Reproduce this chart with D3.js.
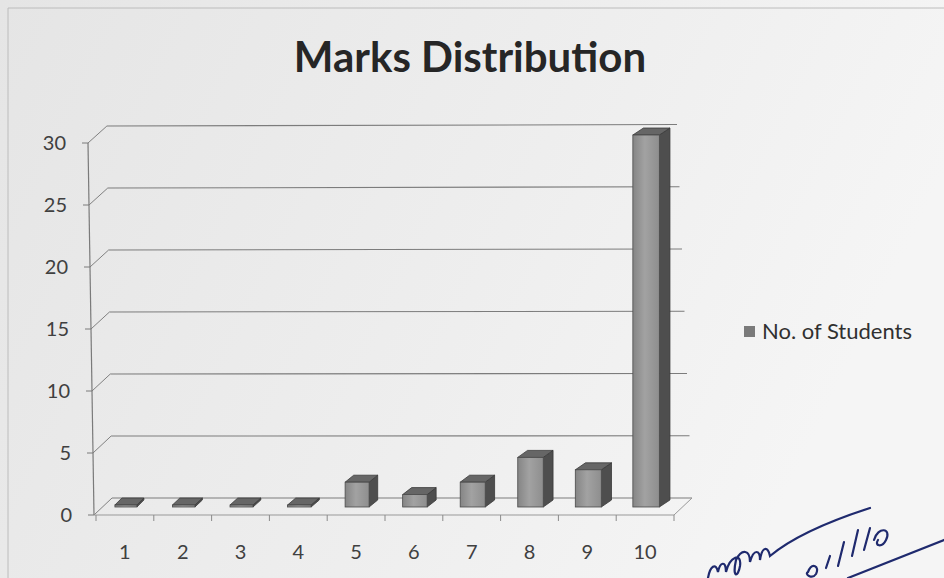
<!DOCTYPE html>
<html>
<head>
<meta charset="utf-8">
<script src="https://cdn.jsdelivr.net/npm/d3@7"></script>
<style>
  html, body { margin: 0; padding: 0; background: #ececec; }
  svg { display: block; }
  text { font-family: Lato, "Open Sans", sans-serif; }
</style>
</head>
<body>
<svg id="chart" width="944" height="578"></svg>
<script>
// data
const categories = ["1", "2", "3", "4", "5", "6", "7", "8", "9", "10"];
const students = [0, 0, 0, 0, 2, 1, 2, 4, 3, 30];
const yTicks = [0, 5, 10, 15, 20, 25, 30];
const seriesName = "No. of Students";
const title = "Marks Distribution";

const W = 944, H = 578;
const svg = d3.select("#chart");

// paper background, a bit brighter on the right like the photo
const defs = svg.append("defs");
const bg = defs.append("linearGradient").attr("id", "bg").attr("x1", 0).attr("x2", 1).attr("y1", 0).attr("y2", 0.3);
bg.append("stop").attr("offset", 0).attr("stop-color", "#e5e5e5");
bg.append("stop").attr("offset", 0.6).attr("stop-color", "#eeeeee");
bg.append("stop").attr("offset", 1).attr("stop-color", "#f5f5f5");
svg.append("rect").attr("width", W).attr("height", H).attr("fill", "url(#bg)");
svg.append("path").attr("d", "M8,578 L8,8 L944,8")
    .attr("fill", "none").attr("stroke", "#bcbcbc").attr("stroke-width", 1);

const front = defs.append("linearGradient").attr("id", "front").attr("x1", 0).attr("x2", 1);
front.append("stop").attr("offset", 0).attr("stop-color", "#858585");
front.append("stop").attr("offset", 0.45).attr("stop-color", "#a2a2a2");
front.append("stop").attr("offset", 1).attr("stop-color", "#8e8e8e");

// scales (front plane)
const x = d3.scaleBand().domain(categories).range([96, 674]);
const y = d3.scaleLinear().domain([0, 30]).range([515, 143]);

// 3d offsets for back wall
const depthX = 18, depthY = -17;
const frontAxisX = v => 94 - v * 0.2;
const backLeftX = v => frontAxisX(v) + depthX + v * 0.03;
const backRightX = v => 692 - v * 0.5;

// title
svg.append("text")
    .attr("x", 470).attr("y", 72)
    .attr("text-anchor", "middle")
    .attr("font-size", 42).attr("font-weight", 700)
    .attr("fill", "#262626")
    .text(title);

const grid = svg.append("g");
// back wall gridlines
grid.selectAll("line.grid").data(yTicks).join("line")
    .attr("class", "grid")
    .attr("x1", d => backLeftX(d)).attr("y1", d => y(d) + depthY)
    .attr("x2", d => backRightX(d)).attr("y2", d => y(d) + depthY - d * 0.05)
    .attr("stroke", "#7c7c7c").attr("stroke-width", 1.1);
// connectors from front axis to back wall
grid.selectAll("line.conn").data(yTicks).join("line")
    .attr("class", "conn")
    .attr("x1", d => frontAxisX(d)).attr("y1", d => y(d))
    .attr("x2", d => backLeftX(d)).attr("y2", d => y(d) + depthY)
    .attr("stroke", "#808080").attr("stroke-width", 1);
// front value axis and tick stubs
grid.append("line")
    .attr("x1", frontAxisX(30)).attr("y1", y(30))
    .attr("x2", frontAxisX(0)).attr("y2", y(0))
    .attr("stroke", "#7a7a7a").attr("stroke-width", 1.2);
grid.selectAll("line.ytick").data(yTicks).join("line")
    .attr("class", "ytick")
    .attr("x1", d => frontAxisX(d) - 6).attr("y1", d => y(d))
    .attr("x2", d => frontAxisX(d)).attr("y2", d => y(d))
    .attr("stroke", "#7a7a7a");
// floor
grid.append("path")
    .attr("d", `M${frontAxisX(0)},${y(0)} L${x.range()[1]},${y(0)} L${backRightX(0)},${y(0) + depthY}`)
    .attr("fill", "none").attr("stroke", "#999").attr("stroke-width", 1);
// category ticks on the front edge
grid.selectAll("line.xtick").data(categories).join("line")
    .attr("class", "xtick")
    .attr("x1", d => x(d) + x.bandwidth()).attr("y1", y(0))
    .attr("x2", d => x(d) + x.bandwidth()).attr("y2", y(0) + 6)
    .attr("stroke", "#8a8a8a");
grid.append("line")
    .attr("x1", x.range()[0]).attr("y1", y(0))
    .attr("x2", x.range()[0]).attr("y2", y(0) + 6)
    .attr("stroke", "#8a8a8a");

// axis labels
svg.append("g").selectAll("text").data(yTicks).join("text")
    .attr("x", d => frontAxisX(d) - 22).attr("y", d => y(d) + 7)
    .attr("text-anchor", "end")
    .attr("font-size", 20).attr("fill", "#404040")
    .text(d => d);
svg.append("g").selectAll("text").data(categories).join("text")
    .attr("x", d => x(d) + x.bandwidth() / 2).attr("y", y(0) + 44)
    .attr("text-anchor", "middle")
    .attr("font-size", 20).attr("fill", "#404040")
    .text(d => d);

// bars
const sideY = -7, barDrop = 8;
const bars = svg.append("g").selectAll("g").data(students.map((v, i) => ({ c: categories[i], v: v, i: i }))).join("g");
bars.each(function (d) {
    const g = d3.select(this);
    const barW = 22 + d.i * 0.5;
    const x0 = x(d.c) + x.bandwidth() / 2 - barW / 2 + 1;
    const x1 = x0 + barW;
    const yb = y(0) - barDrop;
    const yt = y(d.v) - barDrop - (d.v > 0 ? 0 : 2);
    const sx = 7 + d.i * 0.4;
    // side
    g.append("path")
        .attr("d", `M${x1},${yb} L${x1 + sx},${yb + sideY} L${x1 + sx},${yt + sideY} L${x1},${yt} Z`)
        .attr("fill", "#4e4e4e").attr("stroke", "#383838").attr("stroke-width", 0.8);
    // top
    g.append("path")
        .attr("d", `M${x0},${yt} L${x1},${yt} L${x1 + sx},${yt + sideY} L${x0 + sx},${yt + sideY} Z`)
        .attr("fill", "#666").attr("stroke", "#3a3a3a").attr("stroke-width", 0.8);
    // front
    g.append("rect")
        .attr("x", x0).attr("y", yt)
        .attr("width", barW).attr("height", yb - yt)
        .attr("fill", "url(#front)").attr("stroke", "#4a4a4a").attr("stroke-width", 0.8);
});

// legend
const lg = svg.append("g").attr("transform", "translate(744,332)");
lg.append("rect").attr("x", 0).attr("y", -6).attr("width", 11).attr("height", 11).attr("fill", "#7a7a7a");
lg.append("text").attr("x", 18).attr("y", 7)
    .attr("font-size", 22).attr("fill", "#303030")
    .text(seriesName);

// handwritten initials in blue ink
svg.append("g").attr("fill", "none").attr("stroke", "#1f2a6e").attr("stroke-width", 2.2)
    .attr("stroke-linecap", "round")
    .selectAll("path").data([
        "M708,578 C710,566 716,562 718,572 C720,562 726,560 726,572 C730,556 742,552 740,566 C738,578 732,578 736,560 C742,548 750,550 750,562 C754,548 760,550 760,560 C762,546 768,546 770,556 C782,546 808,528 870,508",
        "M808,572 C812,562 820,566 816,574 C812,580 804,574 808,572",
        "M826,568 L830,556 M838,566 L844,542 M852,556 L858,530 M864,550 L870,528",
        "M874,540 C878,526 892,528 886,540 C882,548 874,546 878,540",
        "M848,578 L944,540"
    ]).join("path").attr("d", d => d);
</script>
</body>
</html>
